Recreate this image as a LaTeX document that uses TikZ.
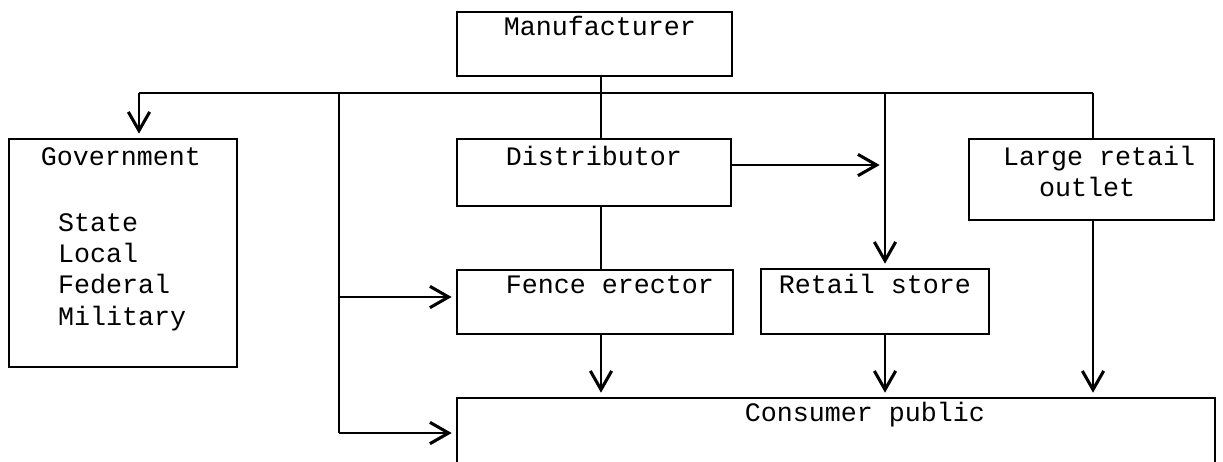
\documentclass[tikz,border=0pt]{standalone}
\usepackage{fontspec}
\newfontfamily\typew{Liberation Mono}
\usetikzlibrary{arrows.meta}

\tikzset{every picture/.style={line width=1.7pt}}
\tikzset{
  blk/.style={draw, rectangle, inner sep=0pt, outer sep=0pt},
  lbl/.style={inner sep=0pt, anchor=base, font=\typew\fontsize{20}{24}\selectfont},
  arr/.style={-{Straight Barb[length=14pt,width=16pt,line width=2.3pt]}, shorten >=4pt},
}

\begin{document}
\begin{tikzpicture}[x=0.75pt,y=0.75pt,yscale=-1,xscale=1]
    \useasboundingbox (0,0) rectangle (1223,461);
    \clip (0,0) rectangle (1223,461);
    % Boxes
    \node[blk, minimum width=206.25pt, minimum height=48pt] (man) at (594.5,44) {};
    \node[blk, minimum width=171pt, minimum height=171pt] (gov) at (123,253) {};
    \node[blk, minimum width=205.5pt, minimum height=50.25pt] (dist) at (594,172.5) {};
    \node[blk, minimum width=183.75pt, minimum height=60.75pt] (lro) at (1091.5,179.5) {};
    \node[blk, minimum width=207pt, minimum height=48pt] (fence) at (595,302) {};
    \node[blk, minimum width=171pt, minimum height=48.75pt] (store) at (875,301.5) {};
    \node[blk, minimum width=568.5pt, minimum height=61.5pt] (cons) at (836,439) {};
    % Text
    \node[lbl] (t-man) at (600,35.5) {Manufacturer};
    \node[lbl] (t-dist) at (594,165.5) {Distributor};
    \node[lbl] (t-gov) at (121,165.5) {Government};
    \node[lbl] (t-lro1) at (1099,165.5) {Large retail};
    \node[lbl] (t-lro2) at (1087,196.5) {outlet};
    \node[lbl] (t-fence) at (610,293.5) {Fence erector};
    \node[lbl] (t-store) at (875,293.5) {Retail store};
    \node[lbl] (t-cons) at (865,421.5) {Consumer public};
    \foreach \t [count=\i from 0] in {State,Local,Federal,Military}
      \node[lbl, anchor=base west] (t-gov-\i) at (57,{231.5+31.2*\i}) {\t};
    % Junctions
    \coordinate (tl) at (139,93);
    \coordinate (tr) at (1093,93);
    \coordinate (jm) at (601,93);
    \coordinate (lv) at (339,93);
    \coordinate (lf) at (339,297);
    \coordinate (lb) at (339,433);
    \coordinate (rv) at (885,93);
    % Connectors
    \draw (tl) -- (tr);
    \draw[arr] (tl) -- (tl |- gov.north);
    \draw (man.south -| jm) -- (dist.north -| jm);
    \draw (lv) -- (lb);
    \draw[arr] (lf) -- (fence.west |- lf);
    \draw[arr] (lb) -- (cons.west |- lb);
    \draw[arr] ([yshift=-5.6pt]dist.east) -- ([yshift=-5.6pt]dist.east -| rv);
    \draw[arr] (rv) -- (store.north -| rv);
    \draw (tr) -- (lro.north -| tr);
    \draw (dist.south -| jm) -- (fence.north -| jm);
    \draw[arr] (fence.south -| jm) -- (cons.north -| jm);
    \draw[arr] (store.south -| rv) -- (cons.north -| rv);
    \draw[arr] (lro.south -| tr) -- (cons.north -| tr);
\end{tikzpicture}
\end{document}
